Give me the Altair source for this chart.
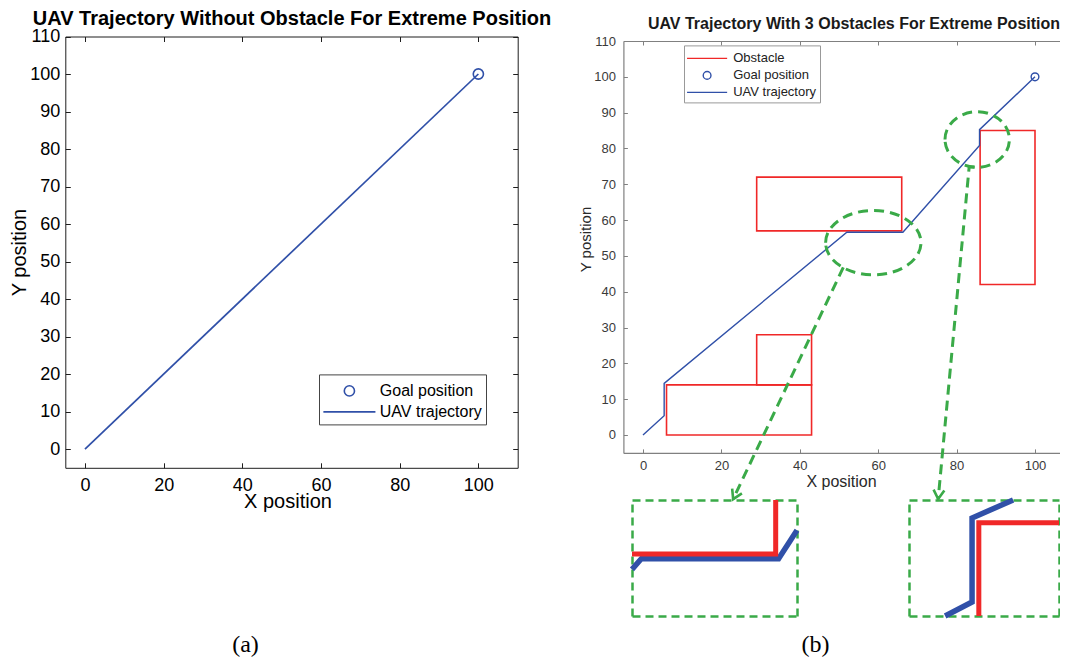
import altair as alt
import pandas as pd

# ---------------- data ----------------
# Panel (a): trajectory without obstacle
a_traj_x = [0, 100]
a_traj_y = [0, 100]
a_goal_x = [100]
a_goal_y = [100]

# Panel (b): trajectory with 3 obstacles
b_traj_x = [0, 5.4, 5.4, 52.0, 66.3, 85.85, 85.85, 100]
b_traj_y = [0, 5.4, 14.4, 56.6, 56.6, 80.8, 85.25, 100]
b_goal_x = [100]
b_goal_y = [100]
obs_x0 = [6, 29, 29, 86]
obs_x1 = [43, 43, 66, 100]
obs_y0 = [0, 14, 57, 42]
obs_y1 = [14, 28, 72, 85]

# highlight ellipses (centres)
ell_id = ["e1", "e2"]
ell_x = [58.75, 85.25]
ell_y = [53.7, 82.5]

# call-out arrows
arrow_id = ["a1", "a1", "a2", "a2", "a2"]
arrow_x = [51.1, 23.0, 84.6, 83.2, 75.3]
arrow_y = [46.8, -17.9, 74.8, 74.8, -17.9]
arrow_head_angle = [25.5, 5.0]

# zoom windows of the two insets
inset1_xdom = [51.03, 68.22]
inset1_ydom = [51.83, 61.5]
inset2_xdom = [84.45, 87.78]
inset2_ydom = [80.06, 86.2]

axis_dom = [-5, 110]
x_ticks = [0, 20, 40, 60, 80, 100]
y_ticks = [0, 10, 20, 30, 40, 50, 60, 70, 80, 90, 100, 110]
legend_a = ["Goal position", "UAV trajectory"]
legend_b = ["Obstacle", "Goal position", "UAV trajectory"]
title_a = "UAV Trajectory Without Obstacle For Extreme Position"
title_b = "UAV Trajectory With 3 Obstacles For Extreme Position"

# ---------------- layout / style ----------------
W, H = 1052, 649
A_XR = [57.3, 509.7]
A_YR = [459.8, 28.5]
B_XR = [615.4, 1066.2]
B_YR = [444.9, 33.0]
I1_XR = [624, 789]
I2_XR = [901, 1051]
I_YR = [608, 492]

BLUE = "#3050a8"
RED = "#f02828"
GREEN = "#3aaa48"
A_AX = "#1e1e1e"
B_AX = "#808080"
B_LBL = "#3a3a3a"
SANS = "Liberation Sans"
SERIF = "Liberation Serif"


def line_path(h):
    return f"M{-h},0L{h},0"


def circle_path(r):
    return f"M{-r},0A{r},{r},0,1,1,{r},0A{r},{r},0,1,1,{-r},0"


def ellipse_path(k):
    return f"M-1,0A1,{k},0,1,1,1,0A1,{k},0,1,1,-1,0"


VHEAD = "M-0.6,-1L0,0L0.6,-1"
ELL_SHAPES = [ellipse_path(0.675), ellipse_path(0.863)]
ELL_SIZES = [9101, 4147]
A_SYM = 512   # marker / legend symbol size, panel (a)
B_SYM = 338   # marker / legend symbol size, panel (b)


# ---------------- helpers ----------------
def sc(dom, rng):
    return alt.Scale(domain=dom, range=rng, nice=False, zero=False)


def X(dom, rng, axis=None, field="x"):
    return alt.X(f"{field}:Q", scale=sc(dom, rng), axis=axis)


def Y(dom, rng, axis=None, field="y"):
    return alt.Y(f"{field}:Q", scale=sc(dom, rng), axis=axis)


def ax_bottom(ypos, **kw):
    return alt.Axis(orient="bottom", offset=ypos - H, grid=False, **kw)


def ax_top(ypos, **kw):
    return alt.Axis(orient="top", offset=-ypos, grid=False, **kw)


def ax_left(xpos, **kw):
    return alt.Axis(orient="left", offset=-xpos, grid=False, **kw)


def ax_right(xpos, **kw):
    return alt.Axis(orient="right", offset=xpos - W, grid=False, **kw)


def clip_seg(x0, y0, x1, y1, xd, yd):
    dx, dy = x1 - x0, y1 - y0
    t0, t1 = 0.0, 1.0
    for p, q in ((-dx, x0 - xd[0]), (dx, xd[1] - x0), (-dy, y0 - yd[0]), (dy, yd[1] - y0)):
        if p == 0:
            if q < 0:
                return None
        else:
            t = q / p
            if p < 0:
                if t > t1:
                    return None
                t0 = max(t0, t)
            else:
                if t < t0:
                    return None
                t1 = min(t1, t)
    if t1 - t0 < 1e-9:
        return None
    return (x0 + t0 * dx, y0 + t0 * dy, x0 + t1 * dx, y0 + t1 * dy)


def clip_polylines(polys, xd, yd):
    rows = []
    pid = 0
    for xs, ys in polys:
        cur = None
        for i in range(len(xs) - 1):
            s = clip_seg(xs[i], ys[i], xs[i + 1], ys[i + 1], xd, yd)
            if s is None:
                cur = None
                continue
            ax_, ay_, bx_, by_ = s
            if cur is not None and abs(cur[-1][0] - ax_) < 1e-9 and abs(cur[-1][1] - ay_) < 1e-9:
                cur.append((bx_, by_))
            else:
                cur = [(ax_, ay_), (bx_, by_)]
                pid += 1
                rows.append((pid, cur))
    out = []
    for pid_, pts in rows:
        for j, (px, py) in enumerate(pts):
            out.append({"pid": pid_, "ord": j, "x": px, "y": py})
    return pd.DataFrame(out)


# ---------------- tables ----------------
df_a_traj = pd.DataFrame({"x": a_traj_x, "y": a_traj_y, "ord": range(len(a_traj_x))})
df_a_goal = pd.DataFrame({"x": a_goal_x, "y": a_goal_y, "series": ["Goal position"] * len(a_goal_x)})
df_b_traj = pd.DataFrame({"x": b_traj_x, "y": b_traj_y, "ord": range(len(b_traj_x))})
df_b_goal = pd.DataFrame({"x": b_goal_x, "y": b_goal_y, "series": ["Goal position"] * len(b_goal_x)})
df_obs = pd.DataFrame({"x": obs_x0, "x2": obs_x1, "y": obs_y0, "y2": obs_y1})
df_ell = pd.DataFrame({"x": ell_x, "y": ell_y, "id": ell_id, "size": ELL_SIZES})
df_arrow = pd.DataFrame({"x": arrow_x, "y": arrow_y, "id": arrow_id, "ord": range(len(arrow_x))})
df_head = df_arrow.groupby("id", sort=True).tail(1).reset_index(drop=True)
df_head["angle"] = arrow_head_angle

obs_polys = [([x0, x1, x1, x0, x0], [y0, y0, y1, y1, y0])
             for x0, x1, y0, y1 in zip(obs_x0, obs_x1, obs_y0, obs_y1)]
traj_poly = [(b_traj_x, b_traj_y)]
df_i1_blue = clip_polylines(traj_poly, inset1_xdom, inset1_ydom)
df_i1_red = clip_polylines(obs_polys, inset1_xdom, inset1_ydom)
df_i2_blue = clip_polylines(traj_poly, inset2_xdom, inset2_ydom)
df_i2_red = clip_polylines(obs_polys, inset2_xdom, inset2_ydom)

# ---------------- panel (a) ----------------
a_lab_common = dict(labelFont=SANS, labelColor="#000000", titleFont=SANS, titleColor="#000000",
                    titleFontWeight="normal", domainColor=A_AX, domainWidth=1, ticks=False, tickSize=0)

a1 = alt.Chart(df_a_traj).mark_line(color=BLUE, strokeWidth=1.7).encode(
    x=X(axis_dom, A_XR, ax_bottom(A_YR[0], values=x_ticks, labelPadding=22.5, labelBaseline="alphabetic",
                                   labelFontSize=18, labelFlush=False, title="X position", titleFontSize=20,
                                   titleX=279.5, titleY=40, titleBaseline="alphabetic", titleAlign="center",
                                   **a_lab_common)),
    y=Y(axis_dom, A_YR, ax_left(A_XR[0], values=y_ticks, labelPadding=5.5, labelFontSize=18, labelFlush=False,
                                 title="Y position", titleFontSize=20, titleAngle=270, titleX=-40, titleY=244,
                                 titleBaseline="alphabetic", titleAlign="center", **a_lab_common)),
    order="ord:Q",
)

a_legend = alt.Legend(orient="none", legendX=311, legendY=366.4, title=None, symbolSize=A_SYM,
                      symbolStrokeWidth=1.6, symbolOffset=13.9, labelFont=SANS, labelFontSize=16,
                      labelColor="#000000", labelOffset=17.9, padding=4, rowPadding=-2.3,
                      strokeColor="#444444", fillColor="white")
a2 = alt.Chart(df_a_goal).mark_point(filled=False, size=A_SYM, strokeWidth=1.6, opacity=1).encode(
    x=X(axis_dom, A_XR, ax_top(A_YR[0], values=x_ticks, labels=False, domain=False, tickSize=5,
                                tickColor=A_AX, title=None)),
    y=Y(axis_dom, A_YR, ax_right(A_XR[0], values=y_ticks, labels=False, domain=False, tickSize=5,
                                  tickColor=A_AX, title=None)),
    color=alt.Color("series:N", scale=alt.Scale(domain=legend_a, range=[BLUE, BLUE]), legend=a_legend),
    shape=alt.Shape("series:N", scale=alt.Scale(domain=legend_a, range=[circle_path(0.45), line_path(2.3)]),
                    legend=a_legend),
)

a3 = alt.Chart(df_a_goal).mark_point(opacity=0).encode(
    x=X(axis_dom, A_XR, ax_bottom(A_YR[1], values=x_ticks, labels=False, domainColor=A_AX, tickSize=5,
                                   tickColor=A_AX, title=None)),
    y=Y(axis_dom, A_YR, ax_left(A_XR[1], values=y_ticks, labels=False, domainColor=A_AX, tickSize=5,
                                 tickColor=A_AX, title=None)),
)

a4 = alt.Chart(df_a_goal).mark_point(opacity=0).encode(
    x=X(axis_dom, A_XR, ax_top(A_YR[1], labels=False, domain=False, ticks=False, title=title_a,
                                titleFont=SANS, titleFontSize=20, titleFontWeight="bold", titleColor="#000000",
                                titleY=-12.5, titleBaseline="alphabetic")),
    y=Y(axis_dom, A_YR, ax_left(0, labels=False, domain=False, ticks=False, title="(a)", titleAngle=0,
                                 titleX=237, titleY=643.5, titleBaseline="alphabetic", titleAlign="center",
                                 titleFont=SERIF, titleFontSize=24, titleFontWeight="normal",
                                 titleColor="#000000")),
)

# ---------------- panel (b) ----------------
b_lab_common = dict(labelFont=SANS, labelColor=B_LBL, titleFont=SANS, titleColor="#2a2a2a",
                    titleFontWeight="normal", domainColor=B_AX, domainWidth=1.2, ticks=False, tickSize=0)

b1 = alt.Chart(df_obs).mark_rect(filled=False, color=RED, strokeWidth=1.6).encode(
    x=X(axis_dom, B_XR, ax_bottom(B_YR[0], values=x_ticks, labelPadding=17, labelBaseline="alphabetic",
                                   labelFontSize=13, labelFlush=False, title="X position", titleFontSize=16,
                                   titleX=833, titleY=33.6, titleBaseline="alphabetic", titleAlign="center",
                                   **b_lab_common)),
    x2="x2:Q",
    y=Y(axis_dom, B_YR, ax_left(B_XR[0], values=y_ticks, labelPadding=8, labelFontSize=13, labelFlush=False,
                                 title="Y position", titleFontSize=15, titleAngle=270, titleX=-33.4, titleY=231,
                                 titleBaseline="alphabetic", titleAlign="center", **b_lab_common)),
    y2="y2:Q",
)

b2 = alt.Chart(df_b_traj).mark_line(color=BLUE, strokeWidth=1.4).encode(
    x=X(axis_dom, B_XR, ax_top(B_YR[0], values=x_ticks, labels=False, domain=False, tickSize=4,
                                tickColor=B_AX, title=None)),
    y=Y(axis_dom, B_YR, ax_right(B_XR[0], values=y_ticks, labels=False, domain=False, tickSize=4,
                                  tickColor=B_AX, title=None)),
    order="ord:Q",
)

b_legend = alt.Legend(orient="none", legendX=676, legendY=37.4, title=None, symbolSize=B_SYM,
                      symbolStrokeWidth=1.4, symbolOffset=10.1, labelFont=SANS, labelFontSize=13,
                      labelColor="#222222", labelOffset=16.1, padding=3, rowPadding=-3.3,
                      strokeColor="#999999", fillColor="white")
b3 = alt.Chart(df_b_goal).mark_point(filled=False, size=B_SYM, strokeWidth=1.4, opacity=1).encode(
    x=X(axis_dom, B_XR, ax_bottom(B_YR[1], values=x_ticks, labels=False, domainColor=B_AX, domainWidth=1.2,
                                   tickSize=4, tickColor=B_AX, title=None)),
    y=Y(axis_dom, B_YR),
    color=alt.Color("series:N", scale=alt.Scale(domain=legend_b, range=[RED, BLUE, BLUE]), legend=b_legend),
    shape=alt.Shape("series:N",
                    scale=alt.Scale(domain=legend_b,
                                    range=[line_path(2.18), circle_path(0.42), line_path(2.18)]),
                    legend=b_legend),
)

b4 = alt.Chart(df_ell).mark_point(filled=False, color=GREEN, strokeWidth=3, strokeDash=[10, 6],
                                  opacity=1).encode(
    x=X(axis_dom, B_XR, ax_top(B_YR[1], labels=False, domain=False, ticks=False, title=title_b,
                                titleFont=SANS, titleFontSize=16, titleFontWeight="bold", titleColor="#1a1a1a",
                                titleX=845.5, titleY=-13, titleBaseline="alphabetic", titleAlign="center")),
    y=Y(axis_dom, B_YR, ax_left(0, labels=False, domain=False, ticks=False, title="(b)", titleAngle=0,
                                 titleX=807, titleY=643.5, titleBaseline="alphabetic", titleAlign="center",
                                 titleFont=SERIF, titleFontSize=24, titleFontWeight="normal",
                                 titleColor="#000000")),
    shape=alt.Shape("id:N", scale=alt.Scale(domain=ell_id, range=ELL_SHAPES), legend=None),
    size=alt.Size("size:Q", scale=None),
)

b5 = alt.Chart(df_arrow).mark_line(color=GREEN, strokeWidth=3, strokeDash=[10, 6]).encode(
    x=X(axis_dom, B_XR), y=Y(axis_dom, B_YR), detail="id:N", order="ord:Q",
)

b6 = alt.Chart(df_head).mark_point(shape=VHEAD, filled=False, size=324, color=GREEN, strokeWidth=2.6,
                                   opacity=1).encode(
    x=X(axis_dom, B_XR), y=Y(axis_dom, B_YR), angle=alt.Angle("angle:Q", scale=None),
)

# ---------------- insets ----------------
frame = dict(labels=False, ticks=False, domainColor=GREEN, domainWidth=2.5, domainDash=[8, 5], title=None)


def inset(df_blue, df_red, xd, yd, xr):
    blue = alt.Chart(df_blue).mark_line(color=BLUE, strokeWidth=5.5).encode(
        x=X(xd, xr, ax_bottom(I_YR[0], **frame)),
        y=Y(yd, I_YR, ax_left(xr[0], **frame)),
        detail="pid:N", order="ord:Q",
    )
    red = alt.Chart(df_red).mark_line(color=RED, strokeWidth=5).encode(
        x=X(xd, xr, ax_top(I_YR[1], **frame)),
        y=Y(yd, I_YR, ax_right(xr[1], **frame)),
        detail="pid:N", order="ord:Q",
    )
    return [blue, red]


layers = [a1, a2, a3, a4, b1, b2, b3, b4, b5, b6]
layers += inset(df_i1_blue, df_i1_red, inset1_xdom, inset1_ydom, I1_XR)
layers += inset(df_i2_blue, df_i2_red, inset2_xdom, inset2_ydom, I2_XR)

chart = alt.layer(*layers).resolve_scale(
    x="independent", y="independent", color="independent", shape="independent"
).resolve_axis(
    x="independent", y="independent"
).resolve_legend(
    color="independent", shape="independent"
).properties(
    width=W, height=H, autosize="none", padding=0, background="white"
).configure_view(stroke=None)

chart.save("out.html", embed_options={"renderer": "svg", "actions": False})
